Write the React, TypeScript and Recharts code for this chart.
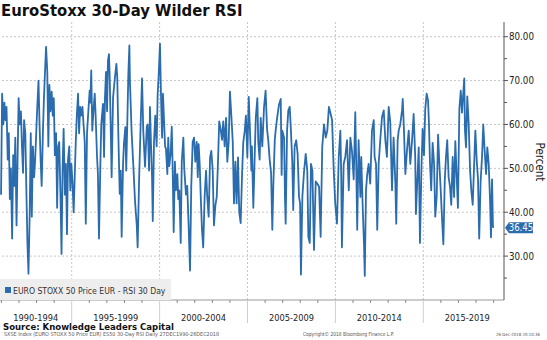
import { LineChart, Line, XAxis, YAxis, ReferenceLine } from 'recharts';

const FONT = "'DejaVu Sans Condensed', 'DejaVu Sans', sans-serif";
const BLUE = '#2a6cad';

const periodLabels = ['1990-1994', '1995-1999', '2000-2004', '2005-2009', '2010-2014', '2015-2019'];
const periodCenters = [1992.96, 1997.5, 2002.5, 2007.5, 2012.5, 2017.5];
const yearTicks = [
  1991, 1992, 1993, 1994, 1995, 1996, 1997, 1998, 1999, 2000, 2001, 2002, 2003, 2004, 2005,
  2006, 2007, 2008, 2009, 2010, 2011, 2012, 2013, 2014, 2015, 2016, 2017, 2018, 2019,
];
const valueTicks = [25, 30, 35, 40, 45, 50, 55, 60, 65, 70, 75, 80];
const gridValues = [30, 40, 50, 60, 70, 80];
const gridYears = [1995, 2000, 2005, 2010, 2015];
const lastValue = 36.45;

// [year, RSI]
const rsi1991to1995 = [
  [1990.98, 44], [1991.04, 67], [1991.11, 60], [1991.17, 65], [1991.23, 61], [1991.29, 64], [1991.36, 52],
  [1991.42, 58], [1991.48, 43], [1991.54, 50], [1991.61, 34], [1991.67, 53], [1991.73, 46], [1991.79, 57],
  [1991.86, 37], [1991.92, 52], [1991.98, 66], [1992.04, 60], [1992.11, 63], [1992.17, 55], [1992.23, 49],
  [1992.29, 61], [1992.36, 58], [1992.42, 45], [1992.48, 33], [1992.54, 26], [1992.61, 40], [1992.67, 58],
  [1992.73, 39], [1992.79, 55], [1992.86, 48], [1992.92, 52], [1992.98, 58], [1993.04, 64], [1993.11, 70],
  [1993.17, 60], [1993.23, 52], [1993.29, 46], [1993.36, 58], [1993.42, 66], [1993.48, 72], [1993.54, 77.7],
  [1993.61, 72], [1993.67, 55], [1993.73, 69], [1993.79, 63], [1993.86, 67.5], [1993.92, 62], [1993.98, 66],
  [1994.04, 53], [1994.11, 58], [1994.17, 41], [1994.23, 55], [1994.29, 56], [1994.36, 44], [1994.42, 30.5],
  [1994.48, 50], [1994.54, 59], [1994.61, 44], [1994.67, 51], [1994.73, 35], [1994.79, 52], [1994.86, 55],
  [1994.92, 45], [1994.98, 51], [1995.04, 47], [1995.11, 40], [1995.17, 48], [1995.23, 56], [1995.29, 62],
  [1995.36, 67], [1995.42, 58], [1995.48, 64], [1995.54, 62], [1995.61, 64],
];

const rsi1995to1998 = [
  [1995.64, 62], [1995.74, 56], [1995.8, 37.4], [1995.87, 58], [1995.93, 62], [1996.02, 67.7], [1996.06, 65],
  [1996.11, 72.3], [1996.17, 58.6], [1996.25, 64], [1996.31, 67], [1996.36, 62], [1996.44, 52.6], [1996.49, 48.8],
  [1996.55, 34], [1996.63, 51], [1996.68, 60], [1996.78, 64.7], [1996.84, 52.6], [1996.89, 66], [1996.95, 72],
  [1997.01, 63], [1997.06, 74.5], [1997.12, 76], [1997.16, 70.8], [1997.22, 59], [1997.27, 48], [1997.35, 66],
  [1997.44, 70], [1997.54, 73.8], [1997.59, 70.8], [1997.65, 58], [1997.73, 44.2], [1997.79, 49.5], [1997.84, 34.4],
  [1997.92, 51], [1997.97, 55.6], [1998.05, 59.4], [1998.1, 49.5], [1998.16, 60], [1998.22, 71.5], [1998.28, 78],
];

const rsi1998to2005 = [
  [1998.31, 70], [1998.41, 58], [1998.5, 51], [1998.6, 42.6], [1998.7, 37], [1998.75, 32], [1998.83, 47],
  [1998.92, 60], [1999.0, 70.5], [1999.07, 58.6], [1999.17, 50.4], [1999.27, 59.5], [1999.32, 60], [1999.4, 49.5],
  [1999.45, 64], [1999.51, 55.5], [1999.57, 47.8], [1999.61, 38], [1999.68, 56], [1999.75, 62], [1999.83, 55],
  [1999.89, 67], [1999.95, 71.5], [2000.02, 78.4], [2000.08, 66.3], [2000.14, 57], [2000.19, 67], [2000.25, 61],
  [2000.31, 55], [2000.36, 54.5], [2000.44, 48.7], [2000.49, 57], [2000.55, 50.5], [2000.63, 53.5], [2000.69, 59.5],
  [2000.74, 50.5], [2000.8, 35.5], [2000.87, 51.5], [2000.93, 45], [2001.01, 48.7], [2001.06, 43], [2001.12, 45],
  [2001.2, 33], [2001.26, 51.5], [2001.35, 57], [2001.4, 50], [2001.5, 44], [2001.57, 46], [2001.65, 37],
  [2001.73, 26.7], [2001.8, 46], [2001.88, 56], [2001.96, 57], [2002.03, 51.5], [2002.11, 56], [2002.17, 48],
  [2002.22, 55.5], [2002.28, 51], [2002.34, 43.5], [2002.41, 36], [2002.48, 32], [2002.56, 43.5], [2002.64, 49.5],
  [2002.71, 43.5], [2002.79, 39], [2002.87, 52.5], [2002.94, 54], [2003.02, 49.5], [2003.09, 37], [2003.17, 41.5],
  [2003.25, 43.5], [2003.32, 51.5], [2003.39, 60.7], [2003.47, 59], [2003.55, 56.5], [2003.62, 60.7], [2003.7, 55],
  [2003.78, 61.5], [2003.85, 51.5], [2003.93, 56], [2004.0, 67.5], [2004.08, 62], [2004.16, 56], [2004.23, 42],
  [2004.31, 51.5], [2004.38, 42], [2004.46, 52.5], [2004.53, 40], [2004.61, 37.5], [2004.69, 48.7], [2004.76, 56],
  [2004.84, 58.5], [2004.91, 62], [2004.99, 52.5], [2005.07, 66.3], [2005.14, 58.5],
];

const rsi2005to2009 = [
  [2005.22, 49.5], [2005.25, 55], [2005.33, 41], [2005.41, 53], [2005.47, 61.5], [2005.56, 66], [2005.61, 56],
  [2005.69, 52], [2005.75, 61.5], [2005.84, 55], [2005.94, 64], [2006.03, 67.7], [2006.11, 59], [2006.18, 56.4],
  [2006.26, 52], [2006.34, 49], [2006.41, 36], [2006.47, 46.5], [2006.55, 56.4], [2006.6, 58.6], [2006.69, 61.7],
  [2006.79, 64.5], [2006.89, 65.8], [2006.94, 48.5], [2006.98, 58.6], [2007.08, 57], [2007.13, 43.5], [2007.17, 37.4],
  [2007.25, 58.6], [2007.32, 63.2], [2007.4, 64], [2007.47, 58.6], [2007.55, 51], [2007.6, 40.5], [2007.68, 55],
  [2007.77, 56.4], [2007.85, 53.3], [2007.93, 43.5], [2007.99, 42], [2008.04, 25.8], [2008.12, 43.5], [2008.21, 49],
  [2008.31, 53.3], [2008.4, 49.5], [2008.46, 34.4], [2008.54, 33], [2008.61, 51], [2008.69, 49.5], [2008.78, 31.4],
  [2008.88, 47], [2008.97, 46.5], [2009.07, 45.8], [2009.16, 34.4], [2009.25, 54.8], [2009.35, 60], [2009.45, 57],
  [2009.54, 58.6], [2009.63, 64], [2009.73, 62.4],
];

const rsi2009to2014 = [
  [2009.81, 61], [2009.9, 50], [2009.99, 42], [2010.09, 37.4], [2010.19, 52.6], [2010.28, 58.6], [2010.33, 48.7],
  [2010.37, 32], [2010.47, 51], [2010.56, 52.6], [2010.66, 56.4], [2010.76, 45], [2010.85, 57], [2010.94, 54],
  [2011.04, 47.5], [2011.13, 62.8], [2011.19, 49.5], [2011.24, 36], [2011.32, 56.4], [2011.42, 43.5], [2011.47, 52.6],
  [2011.55, 41.5], [2011.63, 32], [2011.67, 25.5], [2011.74, 45], [2011.81, 48.7], [2011.89, 51], [2011.98, 46.5],
  [2012.08, 58.6], [2012.18, 61], [2012.23, 52.6], [2012.31, 51], [2012.38, 36], [2012.46, 51], [2012.55, 56.4],
  [2012.65, 61.7], [2012.75, 63.2], [2012.84, 56.4], [2012.93, 52.6], [2013.03, 64], [2013.12, 60.5], [2013.22, 45],
  [2013.31, 57], [2013.41, 46.5], [2013.46, 37.4], [2013.54, 56.4], [2013.6, 58.6], [2013.69, 60], [2013.79, 63.2],
  [2013.83, 65.8], [2013.9, 58.6], [2013.98, 48.7], [2014.07, 54], [2014.17, 58.6], [2014.26, 51], [2014.36, 56.4],
  [2014.45, 62.4], [2014.54, 52.6],
];

const rsi2014to2018 = [
  [2014.58, 39.6], [2014.66, 47.3], [2014.74, 54.8], [2014.81, 33], [2014.89, 49.4], [2014.96, 59], [2015.04, 53],
  [2015.11, 63.5], [2015.19, 67], [2015.27, 65.5], [2015.32, 60.3], [2015.38, 51.2], [2015.45, 45], [2015.53, 55.8],
  [2015.61, 51.2], [2015.68, 39], [2015.76, 43.5], [2015.84, 57.7], [2015.91, 51.2], [2015.99, 45], [2016.06, 39],
  [2016.14, 32.7], [2016.22, 47.3], [2016.29, 52.6], [2016.36, 56.4], [2016.44, 48], [2016.52, 45.8], [2016.59, 41.7],
  [2016.67, 52.6], [2016.75, 43.5], [2016.82, 56.2], [2016.9, 48], [2016.97, 41], [2017.05, 63.5], [2017.13, 67.7],
  [2017.2, 62.7], [2017.27, 67], [2017.33, 70.5], [2017.37, 58.6], [2017.43, 54.8], [2017.5, 66.4], [2017.58, 60.3],
  [2017.66, 49.6], [2017.73, 45], [2017.81, 41.7], [2017.88, 49.6], [2017.96, 58.6], [2018.04, 51.7], [2018.11, 47.6],
  [2018.18, 34], [2018.26, 47], [2018.34, 52.6], [2018.41, 60], [2018.49, 54], [2018.57, 48.7], [2018.64, 54.8],
  [2018.72, 51], [2018.79, 43.5], [2018.85, 34.3], [2018.91, 47.5], [2018.96, 37], [2018.98, lastValue],
];

const data = [
  ...rsi1991to1995, ...rsi1995to1998, ...rsi1998to2005, ...rsi2005to2009, ...rsi2009to2014, ...rsi2014to2018,
].map(([year, rsi]) => ({ year, rsi }));

function YearTick(props: any) {
  const { x, y, payload } = props;
  const v = payload.value;
  const k = periodCenters.indexOf(v);
  if (k >= 0) {
    return (
      <text x={x} y={y + 20.5} textAnchor="middle" fontSize={9.2} fill="#222" fontFamily={FONT}>
        {periodLabels[k]}
      </text>
    );
  }
  if (v % 5 === 0) return <line x1={x} x2={x} y1={y} y2={y + 23} stroke="#cfcfcf" />;
  return <line x1={x} x2={x} y1={y} y2={y + 3} stroke="#888" />;
}

function ValueTick(props: any) {
  const { x, y, payload } = props;
  const v = payload.value;
  if (v === lastValue) {
    return (
      <g>
        <polygon
          points={`${x + 1},${y} ${x + 5},${y - 5.5} ${x + 29},${y - 5.5} ${x + 29},${y + 5.5} ${x + 5},${y + 5.5}`}
          fill={BLUE}
        />
        <text x={x + 17} y={y + 3.5} textAnchor="middle" fontSize={9.6} fill="#fff" fontFamily={FONT}>
          {v.toFixed(2)}
        </text>
      </g>
    );
  }
  const major = v % 10 === 0;
  return (
    <g>
      <line x1={x} x2={x + (major ? 4 : 3)} y1={y} y2={y} stroke="#555" />
      {major && (
        <text x={x + 5} y={y + 3.5} fontSize={9.7} fill="#222" fontFamily={FONT}>
          {v.toFixed(2)}
        </text>
      )}
    </g>
  );
}

export default function App() {
  return (
    <div style={{ position: 'absolute', left: 0, top: 0, width: 547, height: 340, background: '#fff' }}>
      <LineChart width={547} height={340} data={data} margin={{ top: 22, right: 0, bottom: 0, left: 0 }}>
        <XAxis
          dataKey="year"
          type="number"
          domain={[1990.92, 2019.59]}
          allowDataOverflow
          ticks={[...yearTicks, ...periodCenters]}
          interval={0}
          tick={(p: any) => <YearTick {...p} />}
          tickLine={false}
          tickSize={0}
          tickMargin={0}
          height={40}
          axisLine={{ stroke: '#999' }}
        />
        <YAxis
          orientation="right"
          type="number"
          width={43}
          domain={[20, 83.35]}
          allowDataOverflow
          ticks={[...valueTicks, lastValue]}
          interval={0}
          tick={(p: any) => <ValueTick {...p} />}
          tickLine={false}
          tickSize={0}
          tickMargin={0}
          axisLine={{ stroke: '#555' }}
        />
        {gridValues.map((v) => (
          <ReferenceLine key={'h' + v} y={v} stroke="#c6c6c6" strokeDasharray="2 2" />
        ))}
        {gridYears.map((v) => (
          <ReferenceLine key={'v' + v} x={v} stroke="#c6c6c6" strokeDasharray="2 2" />
        ))}
        <Line
          type="linear"
          dataKey="rsi"
          stroke={BLUE}
          strokeWidth={1.8}
          strokeLinejoin="round"
          dot={false}
          isAnimationActive={false}
        />
      </LineChart>
      <svg width={547} height={340} style={{ position: 'absolute', left: 0, top: 0, pointerEvents: 'none' }}>
        <text x={1} y={16} fontSize={16.5} fontWeight="bold" fill="#111" fontFamily={FONT}>
          EuroStoxx 30-Day Wilder RSI
        </text>
        <text x={535.5} y={162} fontSize={11.5} fill="#222" fontFamily={FONT} textAnchor="middle" transform="rotate(90 535.5 162)">
          Percent
        </text>
        <rect x={0} y={279} width={171} height={21} fill="#eeeeee" />
        <rect x={5} y={287} width={6} height={6} fill={BLUE} />
        <text x={13} y={293.5} fontSize={8.6} fill="#333" fontFamily={FONT}>
          EURO STOXX 50 Price EUR - RSI 30 Day
        </text>
        <text x={3} y={330} fontSize={9.5} fontWeight="bold" fill="#111" fontFamily={FONT}>
          Source: Knowledge Leaders Capital
        </text>
        <text x={4} y={335.5} fontSize={5.5} fill="#555" fontFamily={FONT} textLength={215} lengthAdjust="spacingAndGlyphs">
          SXSE Index (EURO STOXX 50 Price EUR) ES50 30-Day RSI  Daily 27DEC1990-26DEC2018
        </text>
        <text x={303} y={335.5} fontSize={5.5} fill="#555" fontFamily={FONT} textLength={91} lengthAdjust="spacingAndGlyphs">
          Copyright© 2018 Bloomberg Finance L.P.
        </text>
        <text x={496} y={335.5} fontSize={4.3} fill="#555" fontFamily={FONT} textLength={44} lengthAdjust="spacingAndGlyphs">
          26-Dec-2018 20:10:36
        </text>
      </svg>
    </div>
  );
}
